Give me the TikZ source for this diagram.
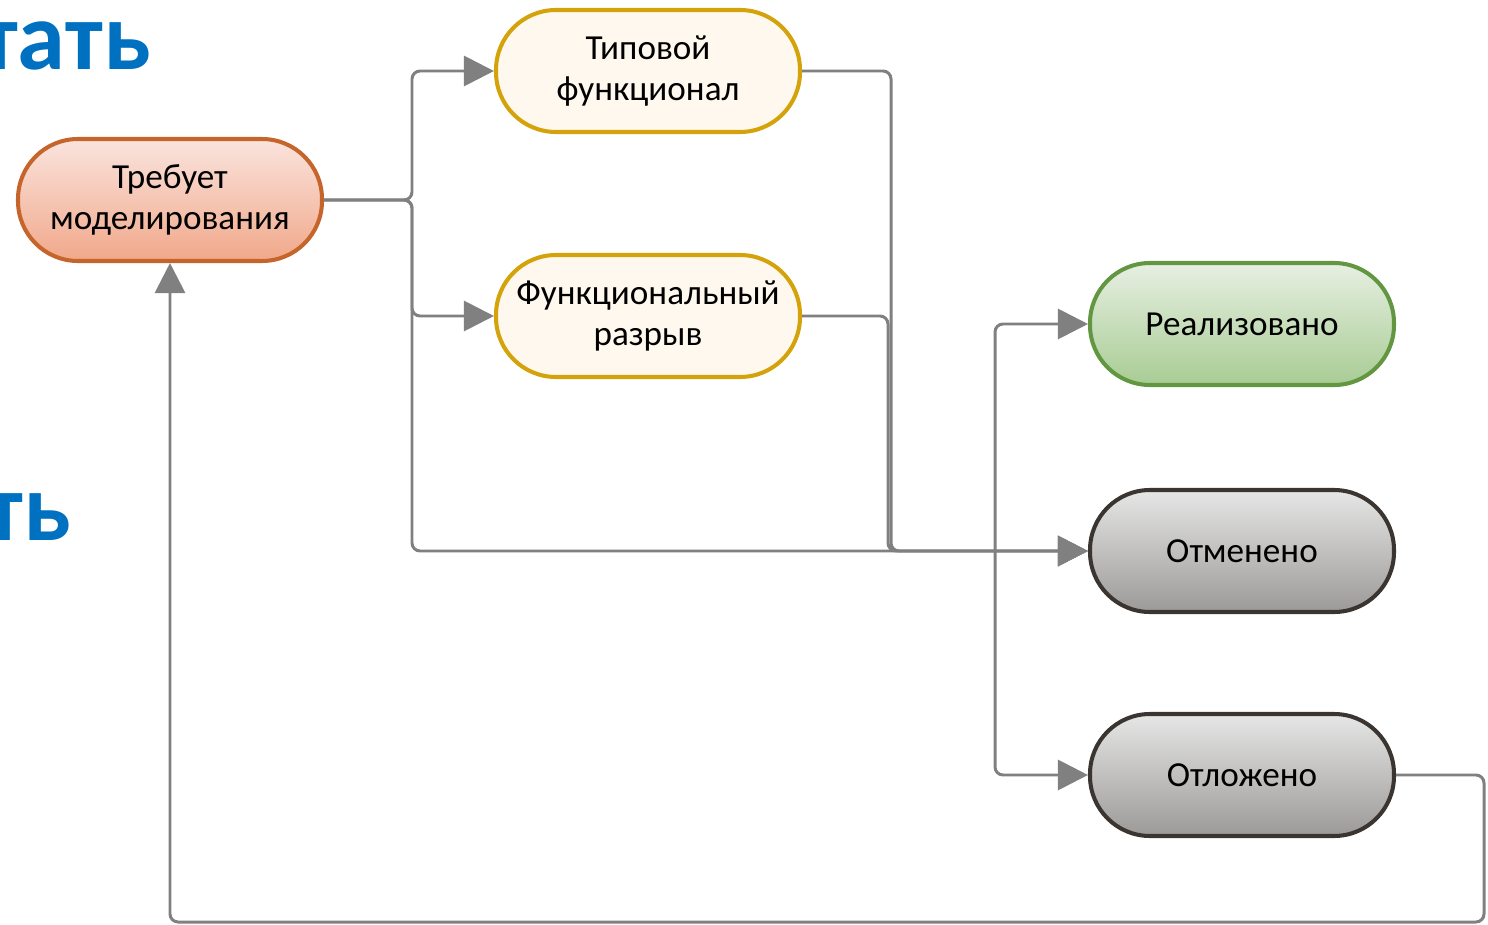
\documentclass[tikz,border=0pt]{standalone}
\usepackage{fontspec}
\setmainfont{Carlito}
\definecolor{myline}{RGB}{128,128,128}
\definecolor{myblue}{RGB}{0,112,192}
\definecolor{myorange}{RGB}{197,101,43}
\definecolor{mysalmontop}{RGB}{250,228,222}
\definecolor{mysalmonbot}{RGB}{241,168,138}
\definecolor{mygold}{RGB}{212,162,11}
\definecolor{mycream}{RGB}{255,248,238}
\definecolor{mygreen}{RGB}{98,150,64}
\definecolor{mygreentop}{RGB}{231,239,226}
\definecolor{mygreenbot}{RGB}{168,204,148}
\definecolor{mydark}{RGB}{59,53,49}
\definecolor{mygreytop}{RGB}{230,230,230}
\definecolor{mygreybot}{RGB}{156,154,152}
\usepackage{tikz}
\usetikzlibrary{arrows.meta,positioning,calc}

\begin{document}
\begin{tikzpicture}[
  x=0.2mm, y=-0.2mm,
  mystate/.style={
    draw,
    line width=2.3pt,
    rectangle,
    rounded corners=12mm,
    minimum width=60.8mm,
    minimum height=24.4mm,
    align=center,
    font=\fontsize{20}{23.5}\selectfont
    },
  mystart/.style={mystate, draw=myorange, top color=mysalmontop, bottom color=mysalmonbot},
  mystep/.style={mystate, draw=mygold, fill=mycream},
  mydone/.style={mystate, draw=mygreen, top color=mygreentop, bottom color=mygreenbot},
  myend/.style={mystate, draw=mydark, top color=mygreytop, bottom color=mygreybot},
  myline/.style={
    draw=myline,
    line width=1.7pt,
    rounded corners=1.6mm
    },
  myarrow/.style={
    myline,
    -{Triangle[length=6mm,width=6mm]}
    },
  mytitle/.style={
    text=myblue,
    font=\fontsize{55}{60}\selectfont\bfseries
    }
]

\useasboundingbox (0,0) rectangle (1488,925);

\node[mytitle, anchor=base east] at (157,70) (t1) {тать};
\node[mytitle, anchor=base east] at (77,540) (t2) {ть};

\node[mystart] at (170,200) (treb) {Требует\\моделирования};
\node[mystep] at (648,71) (tipov) {Типовой\\функционал};
\node[mystep] at (648,316) (razryv) {Функциональный\\разрыв};
\node[mydone] at (1242,324) (realiz) {Реализовано};
\node[myend] at (1242,551) (otmen) {Отменено};
\node[myend] at (1242,775) (otlozh) {Отложено};

\coordinate (split) at (412,200);
\coordinate (colA) at (891,0);
\coordinate (colB) at (888,0);
\coordinate (fork) at (995,551);
\coordinate (back) at (1484,922);

\draw[myarrow] (treb.east) -- (split) |- (tipov.west);
\draw[myarrow] (treb.east) -- (split) |- (razryv.west);
\draw[myarrow] (treb.east) -- (split) |- (otmen.west);

\draw[myarrow] (tipov.east) -- (tipov.east -| colA) |- (otmen.west);
\draw[myarrow] (razryv.east) -- (razryv.east -| colB) |- (otmen.west);

\draw[myarrow] (fork) |- (realiz.west);
\draw[myarrow] (fork) |- (otlozh.west);

\draw[myarrow] (otlozh.east) -| (back) -| (treb.south);

\end{tikzpicture}
\end{document}
